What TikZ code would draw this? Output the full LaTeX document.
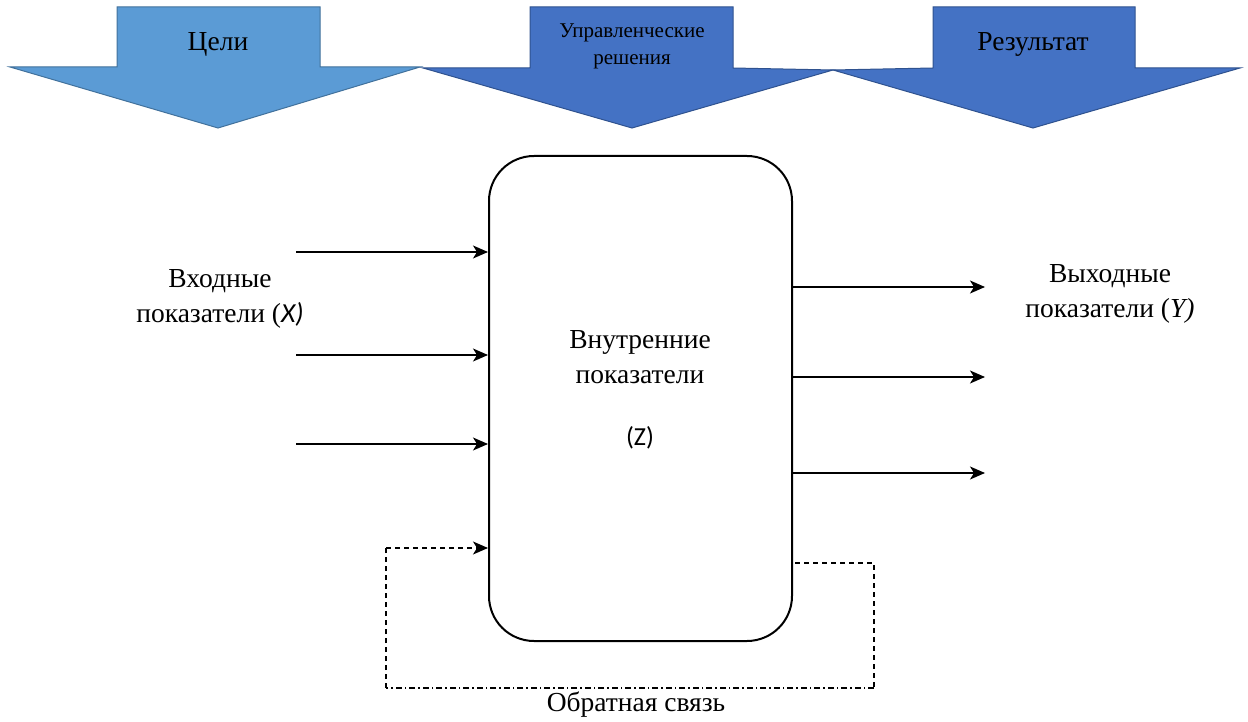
\documentclass[tikz,border=0pt]{standalone}
\usepackage{fontspec}
\setmainfont{Liberation Serif}
\newfontfamily\calib{Carlito}
\usetikzlibrary{arrows.meta}
\definecolor{lblue}{HTML}{5B9BD5}
\definecolor{lblueb}{HTML}{41719C}
\definecolor{dblue}{HTML}{4472C4}
\definecolor{dblueb}{HTML}{2F528F}
\tikzset{
  bigarrow/.style={line width=1pt},
  lbl/.style={font=\fontsize{27.5}{35}\selectfont, align=center, inner sep=0pt},
  smalllbl/.style={font=\fontsize{21}{27}\selectfont, align=center, inner sep=0pt},
  conn/.style={line width=1.3pt, -{Stealth[length=15pt,width=13pt,inset=4pt]}},
  fb/.style={line width=1.2pt, dash pattern=on 5pt off 4pt},
  fbdot/.style={line width=1.2pt, dash pattern=on 6pt off 3pt on 1.5pt off 3pt},
}
\begin{document}
\begin{tikzpicture}[x=1pt,y=-1pt]
\useasboundingbox (0,0) rectangle (1248,722);
% big arrows
\draw[bigarrow, fill=lblue, draw=lblueb] (117,7) -- (320,7) -- (320,67) -- (420,67) -- (218,128) -- (10,67) -- (117,67) -- cycle;
\draw[bigarrow, fill=dblue, draw=dblueb] (530,7) -- (733,7) -- (733,68) -- (833,70) -- (632,128) -- (423,68) -- (530,68) -- cycle;
\draw[bigarrow, fill=dblue, draw=dblueb] (933,7) -- (1135,7) -- (1135,68) -- (1240,68) -- (1033,128) -- (833,70) -- (933,68) -- cycle;
\node[lbl] (goals) at (218,44) {Цели};
\node[smalllbl] (dec) at (632,46) {Управленческие\\решения};
\node[lbl] (res) at (1033,44) {Результат};
% main box
\node[draw, line width=2pt, rounded corners=45pt, minimum width=303pt, minimum height=485pt, inner sep=0pt] (box) at (640.5,398.5) {};
\node[lbl] (inner) at (640,357) {Внутренние\\показатели};
\node[lbl, font=\calib\fontsize{26}{30}\selectfont] (z) at (640,438) {(Z)};
% inputs
\coordinate (i1) at (296,252);
\coordinate (i2) at (296,355);
\coordinate (i3) at (296,444);
\draw[conn] (i1) -- (box.west |- i1);
\draw[conn] (i2) -- (box.west |- i2);
\draw[conn] (i3) -- (box.west |- i3);
\node[lbl] (inl) at (220,299) {Входные\\показатели ({\calib\itshape X)}};
% outputs
\coordinate (o1) at (985,287);
\coordinate (o2) at (985,377);
\coordinate (o3) at (985,473);
\draw[conn] (box.east |- o1) -- (o1);
\draw[conn] (box.east |- o2) -- (o2);
\draw[conn] (box.east |- o3) -- (o3);
\node[lbl] (outl) at (1110,294) {Выходные\\показатели (\textit{Y)}};
% feedback
\coordinate (f1) at (795,563);
\coordinate (f2) at (874,563);
\coordinate (f3) at (874,688);
\coordinate (f4) at (386,688);
\coordinate (f5) at (386,548);
\draw[fb] (f1) -- (f2) -- (f3);
\draw[fbdot] (f3) -- (f4);
\draw[fb] (f4) -- (f5);
\draw[fb, -{Stealth[length=15pt,width=13pt,inset=4pt]}] (f5) -- (box.west |- f5);
\node[lbl] (fbl) at (636,705) {Обратная связь};
\end{tikzpicture}
\end{document}
